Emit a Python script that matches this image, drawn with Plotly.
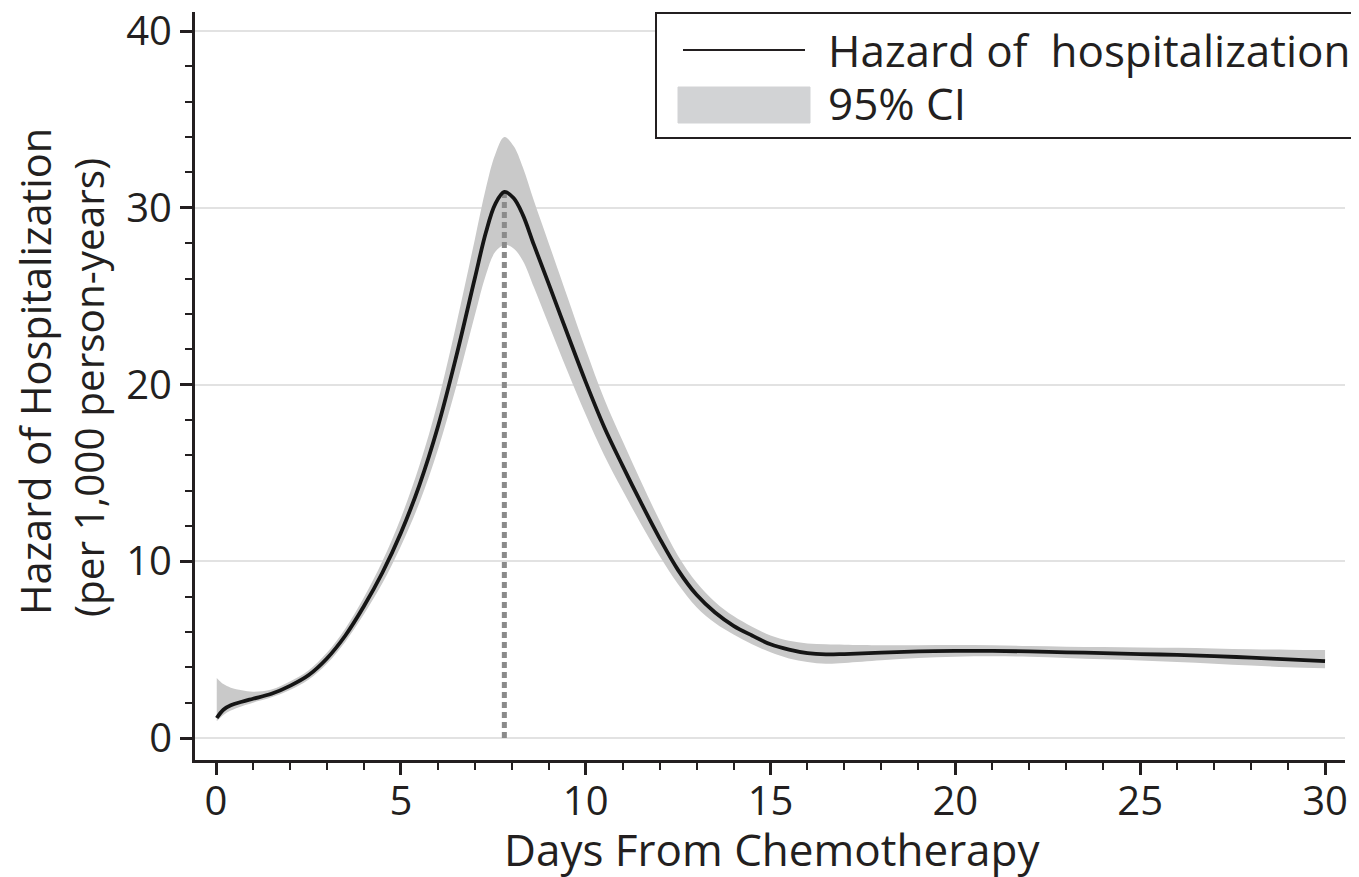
import plotly.graph_objects as go

# ---- data ----
days = [0.02, 0.2, 0.4, 0.7, 1.0, 1.5, 2.0, 2.5, 3.0, 3.5, 4.0, 4.5, 5.0, 5.5, 6.0, 6.5,
        7.0, 7.3, 7.55, 7.8, 8.05, 8.3, 8.6, 9.0, 9.5, 10.0, 10.5, 11.0, 11.5, 12.0, 12.5,
        13.0, 13.5, 14.0, 14.5, 15.0, 15.5, 16.0, 16.5, 17.0, 18.0, 19.0, 20.0, 21.0, 22.0,
        23.0, 24.0, 25.0, 26.0, 27.0, 28.0, 29.0, 30.0]
hazard = [1.13, 1.6, 1.85, 2.05, 2.22, 2.5, 2.95, 3.55, 4.5, 5.8, 7.45, 9.35, 11.6, 14.3, 17.6, 21.6,
          26.0, 28.6, 30.2, 30.9, 30.55, 29.6, 27.9, 25.7, 22.9, 20.15, 17.6, 15.4, 13.3, 11.3, 9.5,
          8.1, 7.1, 6.35, 5.8, 5.3, 5.0, 4.8, 4.73, 4.75, 4.83, 4.9, 4.93, 4.93, 4.9,
          4.85, 4.8, 4.75, 4.7, 4.63, 4.55, 4.45, 4.35]
ci_low = [0.95, 1.3, 1.55, 1.8, 2.0, 2.3, 2.72, 3.3, 4.2, 5.45, 7.0, 8.75, 10.85, 13.3, 16.3, 19.9,
          23.9, 26.2, 27.5, 27.9, 27.7, 27.0, 25.5, 23.4, 20.8, 18.3, 16.0, 14.0, 12.1, 10.3, 8.7,
          7.4, 6.5, 5.85, 5.3, 4.85, 4.5, 4.3, 4.2, 4.25, 4.4, 4.53, 4.6, 4.62, 4.6,
          4.53, 4.45, 4.38, 4.3, 4.2, 4.1, 4.0, 3.95]
ci_high = [3.4, 3.05, 2.85, 2.7, 2.62, 2.75, 3.2, 3.82, 4.82, 6.2, 7.95, 10.0, 12.45, 15.4, 19.0, 23.4,
           28.2, 31.1, 33.0, 34.0, 33.5, 32.3, 30.4, 28.0, 25.0, 22.0, 19.2, 16.8, 14.5, 12.3, 10.3,
           8.8, 7.7, 6.9, 6.3, 5.8, 5.5, 5.35, 5.3, 5.28, 5.25, 5.25, 5.26, 5.25, 5.2,
           5.17, 5.15, 5.12, 5.1, 5.06, 5.02, 5.0, 4.98]
peak_day = 7.8
peak_value = 30.9

x_ticks = [0, 5, 10, 15, 20, 25, 30]
y_ticks = [0, 10, 20, 30, 40]

x_title = "Days From Chemotherapy"
y_title_1 = "Hazard of Hospitalization"
y_title_2 = "(per 1,000 person-years)"
legend_line = "Hazard of  hospitalization"
legend_band = "95% CI"

FONT = "Open Sans"
INK = "#231f20"
BAND = "#c9c9c9"

fig = go.Figure()
fig.add_trace(go.Scatter(x=days, y=ci_low, mode="lines", line=dict(width=0, shape="spline"),
                         hoverinfo="skip", showlegend=False))
fig.add_trace(go.Scatter(x=days, y=ci_high, mode="lines", line=dict(width=0, shape="spline"),
                         fill="tonexty", fillcolor=BAND, name=legend_band, showlegend=False))
fig.add_trace(go.Scatter(x=[peak_day, peak_day], y=[0, peak_value], mode="lines",
                         line=dict(color="#8a8a8a", width=5, dash="6px,4px"), showlegend=False))
fig.add_trace(go.Scatter(x=days, y=hazard, mode="lines", name=legend_line,
                         line=dict(color="#151515", width=3.8, shape="spline"), showlegend=False))

# figure geometry; the page body adds an 8 px offset
OFF = 8
W, H = 1359 - OFF, 877 - OFF
L, R, T, B = 187, 14, 4, 117
PW, PH = W - L - R, H - T - B

def px(xr):
    """reference-image x pixel -> paper x"""
    return (xr - OFF - L) / PW

def py(yr):
    """reference-image y pixel -> paper y"""
    return (H - B - (yr - OFF)) / PH

axis_common = dict(showline=True, linecolor=INK, linewidth=3, ticks="outside", ticklen=12,
                   tickwidth=3, tickcolor=INK, zeroline=False, automargin=False,
                   ticklabeloverflow="allow",
                   tickfont=dict(family=FONT, size=40, color=INK))

fig.update_layout(
    width=W, height=H, margin=dict(l=L, r=R, t=T, b=B, autoexpand=False),
    paper_bgcolor="white", plot_bgcolor="white",
    xaxis=dict(range=[-0.568, 30.54], tickvals=x_ticks, showgrid=False, ticklabelstandoff=-8,
               minor=dict(dtick=1, tick0=0, ticks="outside", ticklen=7, tickwidth=2,
                          tickcolor=INK, showgrid=False),
               **axis_common),
    yaxis=dict(range=[-1.245, 41.08], tickvals=y_ticks, showgrid=True, gridcolor="#e2e2e2",
               gridwidth=1.5,
               minor=dict(dtick=2, tick0=0, ticks="outside", ticklen=7, tickwidth=2,
                          tickcolor=INK, showgrid=False),
               **axis_common),
    showlegend=False,
)

annos = [
    dict(text=x_title, x=px(772), y=py(849), xref="paper", yref="paper",
         xanchor="center", yanchor="middle", showarrow=False,
         font=dict(family=FONT, size=44, color=INK)),
    dict(text=y_title_1, x=px(35), y=py(372), xref="paper", yref="paper", textangle=-90,
         xanchor="center", yanchor="middle", showarrow=False,
         font=dict(family=FONT, size=41.5, color=INK)),
    dict(text=y_title_2, x=px(88), y=py(388), xref="paper", yref="paper", textangle=-90,
         xanchor="center", yanchor="middle", showarrow=False,
         font=dict(family=FONT, size=40.5, color=INK)),
    dict(text=legend_line, x=px(826), y=py(50), xref="paper", yref="paper",
         xanchor="left", yanchor="middle", showarrow=False,
         font=dict(family=FONT, size=44, color=INK)),
    dict(text=legend_band, x=px(826), y=py(103), xref="paper", yref="paper",
         xanchor="left", yanchor="middle", showarrow=False,
         font=dict(family=FONT, size=44, color=INK)),
]
fig.update_layout(annotations=annos)

shapes = [
    dict(type="rect", xref="paper", yref="paper", x0=px(656), x1=px(1380), y0=py(138), y1=py(13),
         line=dict(color=INK, width=2), fillcolor="white", layer="above"),
    dict(type="line", xref="paper", yref="paper", x0=px(683), x1=px(805), y0=py(50), y1=py(50),
         line=dict(color=INK, width=2), layer="above"),
    dict(type="rect", xref="paper", yref="paper", x0=px(678), x1=px(810), y0=py(123), y1=py(87),
         line=dict(color="#d2d3d5", width=1), fillcolor="#d2d3d5", layer="above"),
]
fig.update_layout(shapes=shapes)

fig.write_html("out.html", config={"displayModeBar": False})
